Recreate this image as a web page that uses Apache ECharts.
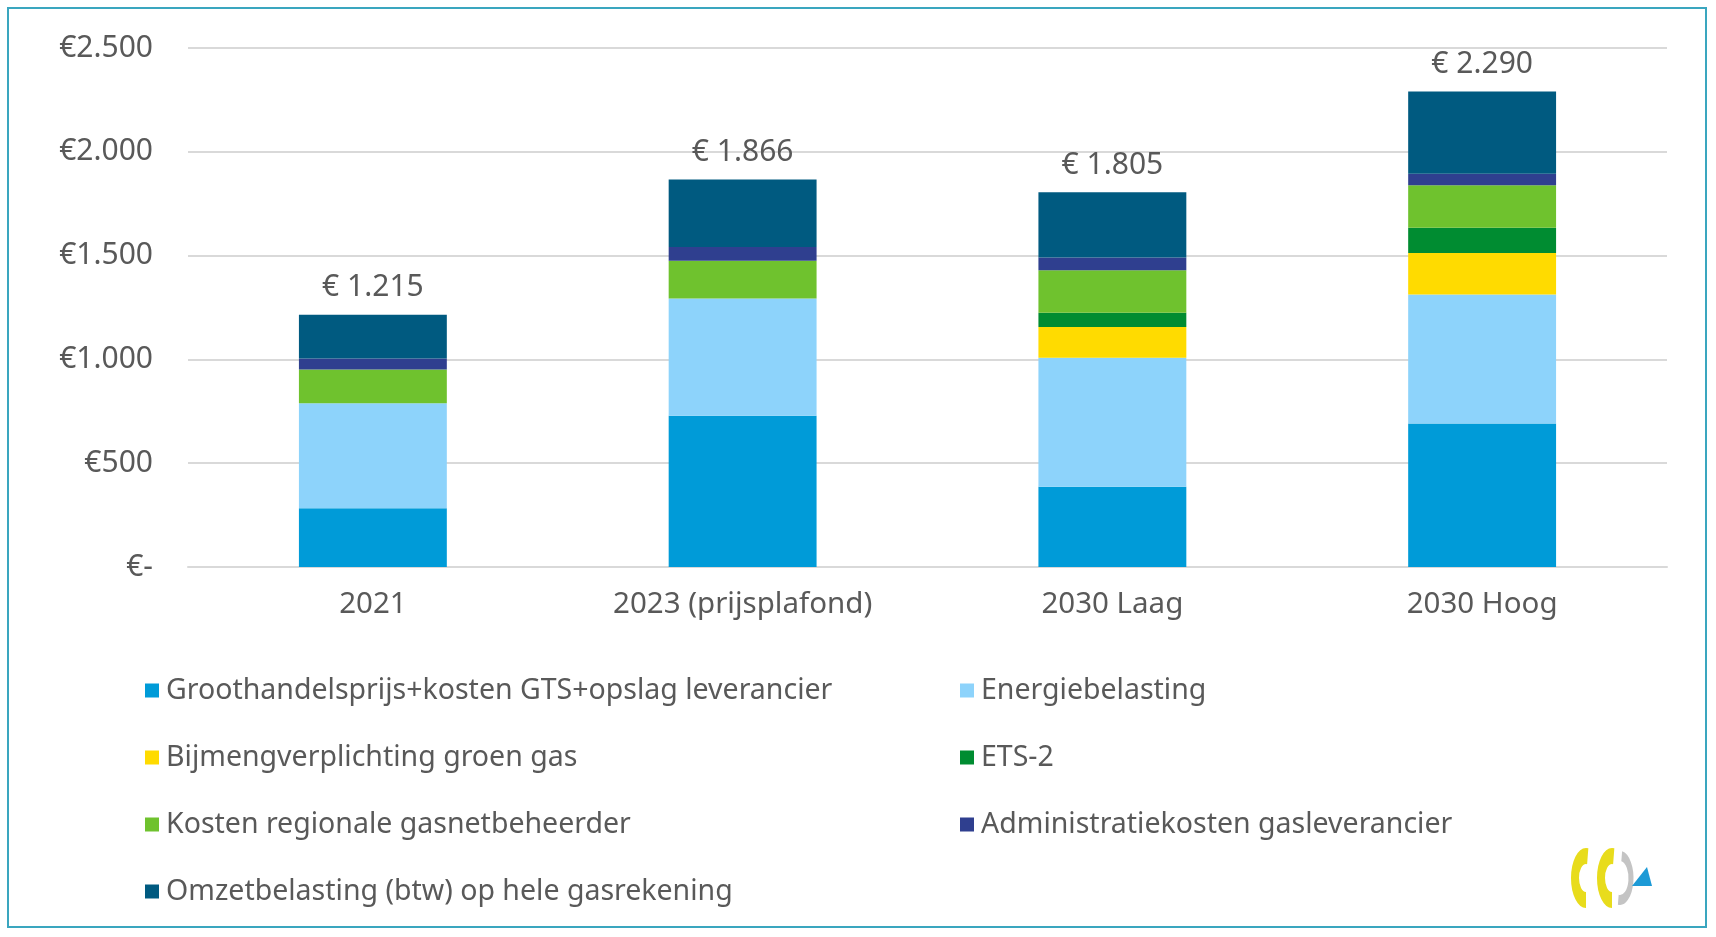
<!DOCTYPE html>
<html>
<head>
<meta charset="utf-8">
<script src="https://cdn.jsdelivr.net/npm/echarts@6/dist/echarts.min.js"></script>
<style>
  html, body { margin: 0; padding: 0; background: #fff; }
  #chart { width: 1716px; height: 937px; }
</style>
</head>
<body>
<div id="chart"></div>
<script>
// categorieen en waarden (euro per jaar)
const categories = ['2021', '2023 (prijsplafond)', '2030 Laag', '2030 Hoog'];
const groothandel = [283, 728, 386, 691];
const energiebelasting = [506, 565, 622, 622];
const bijmeng = [0, 0, 148, 199];
const ets2 = [0, 0, 69, 122];
const netbeheer = [162, 182, 204, 205];
const administratie = [53, 67, 62, 55];
const omzetbelasting = [211, 324, 314, 396];
const yTicks = [0, 500, 1000, 1500, 2000, 2500];

const seriesDefs = [
  { name: 'Groothandelsprijs+kosten GTS+opslag leverancier', data: groothandel, color: '#009bd8' },
  { name: 'Energiebelasting', data: energiebelasting, color: '#8dd3fb' },
  { name: 'Bijmengverplichting groen gas', data: bijmeng, color: '#ffdb00' },
  { name: 'ETS-2', data: ets2, color: '#008c31' },
  { name: 'Kosten regionale gasnetbeheerder', data: netbeheer, color: '#6fc22e' },
  { name: 'Administratiekosten gasleverancier', data: administratie, color: '#2f3f8f' },
  { name: 'Omzetbelasting (btw) op hele gasrekening', data: omzetbelasting, color: '#005a80' }
];

// totaal per kolom voor het label boven de staaf
const totals = categories.map((c, i) => seriesDefs.reduce((s, d) => s + d.data[i], 0));

const fmt = v => v === 0 ? '€-' : '€' + v.toLocaleString('nl-NL');

const font = 'Noto Sans';
const textColor = '#595959';

const chart = echarts.init(document.getElementById('chart'));

const legendText = { fontFamily: font, fontSize: 28.5, color: textColor, padding: [0, 0, 0, 2] };

const option = {
  backgroundColor: '#fff',
  animation: false,
  textStyle: { fontFamily: font },
  grid: { left: 188, right: 49, top: 48, bottom: 370 },
  legend: [
    {
      orient: 'vertical', left: 140, top: 671, itemGap: 38,
      itemWidth: 14, itemHeight: 14, icon: 'rect',
      textStyle: legendText,
      data: [seriesDefs[0].name, seriesDefs[2].name, seriesDefs[4].name, seriesDefs[6].name]
    },
    {
      orient: 'vertical', left: 955, top: 671, itemGap: 38,
      itemWidth: 14, itemHeight: 14, icon: 'rect',
      textStyle: legendText,
      data: [seriesDefs[1].name, seriesDefs[3].name, seriesDefs[5].name]
    }
  ],
  xAxis: {
    type: 'category',
    data: categories,
    axisLine: { lineStyle: { color: '#d9d9d9', width: 2 } },
    axisTick: { show: false },
    axisLabel: { color: textColor, fontSize: 29.5, fontFamily: font, margin: 23 }
  },
  yAxis: {
    type: 'value',
    min: yTicks[0],
    max: yTicks[yTicks.length - 1],
    interval: 500,
    axisLabel: { color: textColor, fontSize: 30, fontFamily: font, margin: 35, formatter: fmt },
    splitLine: { lineStyle: { color: '#d9d9d9', width: 2 } }
  },
  series: seriesDefs.map((d, idx) => ({
    name: d.name,
    type: 'bar',
    stack: 'totaal',
    barWidth: '40%',
    data: d.data,
    itemStyle: { color: d.color },
    label: idx === seriesDefs.length - 1 ? {
      show: true,
      position: 'top',
      distance: 12,
      color: textColor,
      fontSize: 30,
      fontFamily: font,
      formatter: p => '€ ' + totals[p.dataIndex].toLocaleString('nl-NL')
    } : { show: false }
  })),
  graphic: [
    {
      type: 'rect',
      shape: { x: 8, y: 8, width: 1698, height: 919 },
      style: { fill: 'none', stroke: '#3aa6bf', lineWidth: 2 }
    },
    // logo rechtsonder
    {
      type: 'group', x: 1586, y: 878, scaleX: 0.5,
      children: [
        { type: 'arc', shape: { cx: 0, cy: 0, r: 22, startAngle: Math.PI * 0.5, endAngle: Math.PI * 1.55 },
          style: { stroke: '#e8dc1c', lineWidth: 16, fill: 'none' } },
        { type: 'arc', shape: { cx: 52, cy: 0, r: 22, startAngle: Math.PI * 0.5, endAngle: Math.PI * 1.55 },
          style: { stroke: '#e8dc1c', lineWidth: 16, fill: 'none' } },
        { type: 'arc', shape: { cx: 68, cy: 0, r: 22, startAngle: -Math.PI * 0.45, endAngle: Math.PI * 0.55 },
          style: { stroke: '#c4c4c4', lineWidth: 10, fill: 'none' } }
      ]
    },
    {
      type: 'polygon',
      shape: { points: [[1632, 886], [1652, 886], [1647, 867]] },
      style: { fill: '#1d9ad6' }
    }
  ]
};

chart.setOption(option);
</script>
</body>
</html>
